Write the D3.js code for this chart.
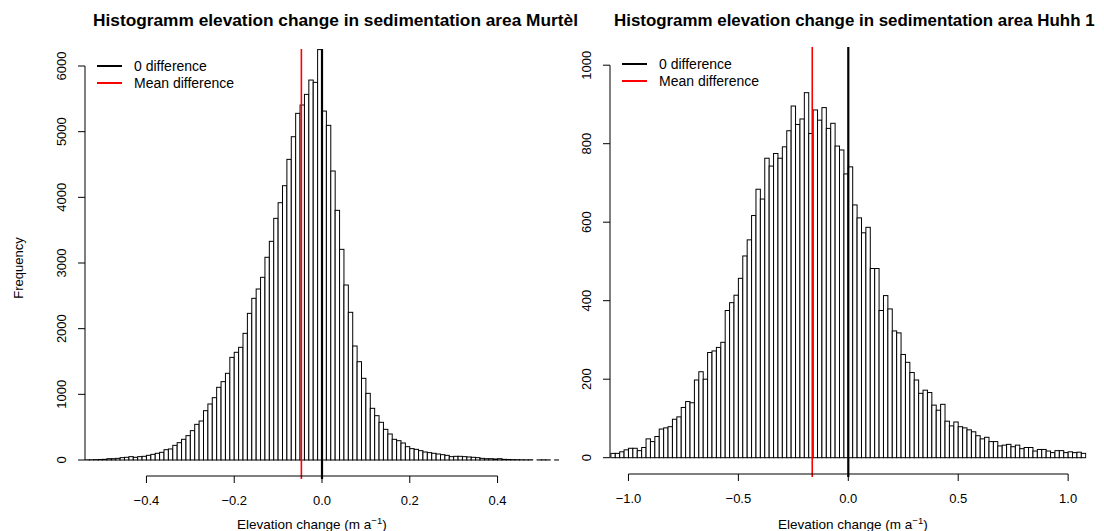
<!DOCTYPE html>
<html lang="en">
<head>
<meta charset="UTF-8">
<title>Histogramm elevation change</title>
<script src="https://d3js.org/d3.v7.min.js"></script>
<style>
 body {
   margin: 0;
   background: #fff;
 }
 svg {
   display: block;
   font-family: "Liberation Sans", Arial, sans-serif;
 }
 .bar {
   fill: #fff;
   stroke: #000;
   stroke-width: 1px;
 }
 .axis-line {
   stroke: #000;
   stroke-width: 1px;
   fill: none;
 }
 .title {
   font-weight: bold;
 }
</style>
</head>
<body>
<div id="chart"></div>
<script>
// Murtèl: bins of 0.01 starting at -0.54
const murtelCounts = [
  3, 4, 6, 8, 10, 20, 20, 25, 36, 41, 51, 41, 51, 56, 71, 86, 102, 117, 157, 168,
  223, 264, 315, 371, 447, 543, 594, 751, 853, 949, 1107, 1193, 1320, 1563, 1640, 1716, 1929, 2233, 2462, 2604,
  2782, 3087, 3330, 3680, 3918, 4177, 4578, 4923, 5279, 5406, 5568, 5786, 5751, 6250,
  5314, 5096, 4401, 3802, 3208, 2665, 2249, 1736, 1497, 1244, 1015, 787, 675, 574, 467, 396,
  315, 294, 259, 203, 173, 162, 142, 122, 112, 102, 91, 81, 71, 51, 56, 56, 51, 46, 41, 36,
  25, 20, 20, 15, 20, 10, 8, 6, 5, 4, 3, 4, 0, 2, 3, 2, 0, 1
];
const murtelStart = -0.54;
const murtelBin = 0.01;
const murtelMean = -0.047;

// Huhh 1: bins of 0.02 starting at -1.08
const huhhCounts = [
  11, 11, 15, 20, 24, 24, 18, 26, 48, 41, 54, 73, 76, 79, 98, 104, 128, 143, 140, 198,
  219, 200, 268, 272, 281, 294, 375, 395, 414, 457,
  514, 555, 617, 684, 659, 763, 743, 775, 763, 792, 833, 896, 849, 863, 930, 826, 886, 860, 892, 839,
  852, 794, 784, 723,
  741, 644, 611, 573, 587, 482, 482, 375, 413, 379, 323, 318, 263, 243, 217, 198, 164, 172, 166, 134,
  121, 136, 93, 81, 91, 79, 76, 71, 66, 56, 48, 52, 41, 41, 30, 32, 34, 28, 32, 23,
  26, 26, 17, 21, 21, 17, 13, 18, 18, 13, 15, 13, 14, 11
];
const huhhStart = -1.08;
const huhhBin = 0.02;
const huhhMean = -0.164;

const murtelXTicks = [-0.4, -0.2, 0.0, 0.2, 0.4];
const murtelYTicks = [0, 1000, 2000, 3000, 4000, 5000, 6000];
const huhhXTicks = [-1.0, -0.5, 0.0, 0.5, 1.0];
const huhhYTicks = [0, 200, 400, 600, 800, 1000];

const legendLabels = ["0 difference", "Mean difference"];
const legendColors = ["#000", "#ff0000"];

const width = 1104;
const height = 531;

const svg = d3.select('#chart').append('svg')
  .attr('width', width)
  .attr('height', height);

const defs = svg.append('defs');

function drawPanel(opt) {
  const x = d3.scaleLinear().domain(opt.xDomain).range([opt.left, opt.right]);
  const y = d3.scaleLinear().domain(opt.yDomain).range([opt.y0, opt.yTop]);

  const clipId = 'clip-' + opt.id;
  defs.append('clipPath').attr('id', clipId)
    .append('rect')
    .attr('x', opt.left)
    .attr('y', opt.plotTop)
    .attr('width', opt.right - opt.left)
    .attr('height', opt.plotBottom - opt.plotTop);

  const g = svg.append('g');
  const plot = g.append('g').attr('clip-path', `url(#${clipId})`);

  // bars
  const bins = opt.counts.map((c, i) => ({
    x0: opt.start + i * opt.bin,
    x1: opt.start + (i + 1) * opt.bin,
    count: c
  }));
  plot.selectAll('.bar')
    .data(bins)
    .enter()
    .append('rect')
    .attr('class', 'bar')
    .attr('x', d => x(d.x0))
    .attr('width', d => x(d.x1) - x(d.x0))
    .attr('y', d => y(d.count))
    .attr('height', d => y(0) - y(d.count));

  // zero and mean lines
  g.append('line')
    .attr('x1', x(0)).attr('x2', x(0))
    .attr('y1', opt.plotTop).attr('y2', opt.plotBottom + 3)
    .attr('stroke', '#000').attr('stroke-width', 2.2);
  g.append('line')
    .attr('x1', x(opt.mean)).attr('x2', x(opt.mean))
    .attr('y1', opt.plotTop).attr('y2', opt.plotBottom + 3)
    .attr('stroke', '#ff0000').attr('stroke-width', 1.6);

  // x axis
  const xt = opt.xTicks;
  g.append('line').attr('class', 'axis-line')
    .attr('x1', x(xt[0])).attr('x2', x(xt[xt.length - 1]))
    .attr('y1', opt.plotBottom).attr('y2', opt.plotBottom);
  g.selectAll('.xtick')
    .data(xt)
    .enter()
    .append('line')
    .attr('class', 'axis-line')
    .attr('x1', d => x(d)).attr('x2', d => x(d))
    .attr('y1', opt.plotBottom).attr('y2', opt.plotBottom + 7);
  g.selectAll('.xlabel')
    .data(xt)
    .enter()
    .append('text')
    .attr('x', d => x(d))
    .attr('y', opt.plotBottom + 29)
    .attr('text-anchor', 'middle')
    .attr('font-size', 13)
    .text(d => d3.format('.1f')(d));

  const xl = g.append('text')
    .attr('x', opt.xLabelX)
    .attr('y', 529)
    .attr('font-size', 13.5)
    .text('Elevation change (m a');
  xl.append('tspan').attr('font-size', 9.5).attr('dy', -5).text('\u22121');
  xl.append('tspan').attr('dy', 5).text(')');

  // y axis
  const yt = opt.yTicks;
  g.append('line').attr('class', 'axis-line')
    .attr('x1', opt.left).attr('x2', opt.left)
    .attr('y1', y(yt[0])).attr('y2', y(yt[yt.length - 1]));
  g.selectAll('.ytick')
    .data(yt)
    .enter()
    .append('line')
    .attr('class', 'axis-line')
    .attr('x1', opt.left - 7).attr('x2', opt.left)
    .attr('y1', d => y(d)).attr('y2', d => y(d));
  g.selectAll('.ylabel')
    .data(yt)
    .enter()
    .append('text')
    .attr('transform', d => `translate(${opt.left - 19},${y(d)}) rotate(-90)`)
    .attr('text-anchor', 'middle')
    .attr('font-size', 13)
    .text(d => d);

  // title
  g.append('text')
    .attr('class', 'title')
    .attr('x', opt.titleX)
    .attr('y', 26)
    .attr('font-size', opt.titleSize)
    .text(opt.title);

  // legend
  legendLabels.forEach((lab, i) => {
    const ly = opt.legendY + i * 17;
    g.append('line')
      .attr('x1', opt.legendX).attr('x2', opt.legendX + 25)
      .attr('y1', ly).attr('y2', ly)
      .attr('stroke', legendColors[i]).attr('stroke-width', 2);
    g.append('text')
      .attr('x', opt.legendX + 37)
      .attr('y', ly + 5)
      .attr('font-size', 14)
      .text(lab);
  });
}

drawPanel({
  id: 'murtel',
  counts: murtelCounts, start: murtelStart, bin: murtelBin, mean: murtelMean,
  xDomain: [-0.54, 0.54], left: 85, right: 559,
  yDomain: [0, 6000], y0: 460, yTop: 66,
  plotTop: 49, plotBottom: 476,
  xTicks: murtelXTicks, yTicks: murtelYTicks,
  title: 'Histogramm elevation change in sedimentation area Murtèl', titleX: 93, titleSize: 17.3,
  xLabelX: 237,
  legendX: 97, legendY: 66
});

drawPanel({
  id: 'huhh',
  counts: huhhCounts, start: huhhStart, bin: huhhBin, mean: huhhMean,
  xDomain: [-1.084, 1.084], left: 610, right: 1086.6,
  yDomain: [0, 1000], y0: 457.7, yTop: 65.2,
  plotTop: 47, plotBottom: 474,
  xTicks: huhhXTicks, yTicks: huhhYTicks,
  title: 'Histogramm elevation change in sedimentation area Huhh 1', titleX: 614, titleSize: 16.9,
  xLabelX: 778,
  legendX: 622, legendY: 64
});

svg.append('text')
  .attr('transform', 'translate(23,268) rotate(-90)')
  .attr('text-anchor', 'middle')
  .attr('font-size', 13)
  .text('Frequency');
</script>
</body>
</html>
